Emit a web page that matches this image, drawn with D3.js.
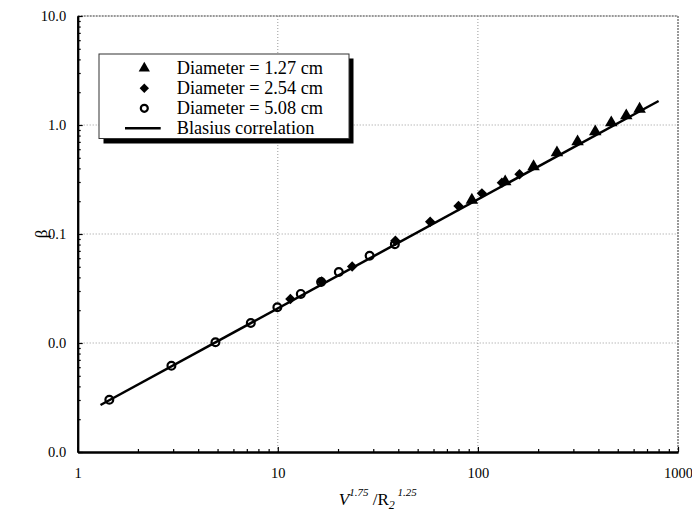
<!DOCTYPE html>
<html>
<head>
<meta charset="utf-8">
<script src="https://cdn.jsdelivr.net/npm/d3@7/dist/d3.min.js"></script>
<style>
  html, body { margin: 0; padding: 0; background: #fff; }
  svg text { font-family: 'Liberation Serif', 'Times New Roman', Times, serif; }
</style>
</head>
<body>
<svg id="chart" width="692" height="514"></svg>
<script>
// ---- Data ----
const d127X = [93.3, 136.9, 189.7, 248.3, 314.8, 385.9, 464.0, 551.4, 642.7];
const d127Y = [0.205, 0.302, 0.416, 0.557, 0.703, 0.869, 1.05, 1.217, 1.40];

const d254X = [11.56, 16.56, 23.53, 38.69, 57.74, 80.0, 104.7, 131.8, 161.4];
const d254Y = [0.0253, 0.0367, 0.0503, 0.0868, 0.1294, 0.1807, 0.236, 0.296, 0.353];

const d508X = [1.439, 2.94, 4.88, 7.33, 9.95, 13.03, 16.46, 20.18, 28.77, 38.46];
const d508Y = [0.00302, 0.00619, 0.01015, 0.01525, 0.0213, 0.0282, 0.0363, 0.0448, 0.0631, 0.0806];

const blasiusX = [1.30, 800];
const blasiusY = [0.0027, 1.66];

const xTicks = [1, 10, 100, 1000];
const yTicks = [0.001, 0.01, 0.1, 1, 10];
const legendLabels = ["Diameter = 1.27 cm", "Diameter = 2.54 cm", "Diameter = 5.08 cm", "Blasius correlation"];

// ---- Layout ----
const FONT = "'Liberation Serif', 'Times New Roman', Times, serif";
const W = 692, H = 514;
const margin = { left: 77.7, top: 16, right: 14, bottom: 62 };
const svg = d3.select("#chart");

const x = d3.scaleLog().domain([1, 1000]).range([margin.left, W - margin.right]);
const y = d3.scaleLog().domain([0.001, 10]).range([H - margin.bottom, margin.top]);

const x0 = x.range()[0], x1 = x.range()[1];
const y0 = y.range()[0], y1 = y.range()[1];

// ---- Grid ----
const grid = svg.append("g");
grid.selectAll(".gx").data(xTicks.slice(1, -1)).enter().append("line")
  .attr("x1", d => x(d)).attr("x2", d => x(d)).attr("y1", y0).attr("y2", y1)
  .attr("stroke", "#999").attr("stroke-width", 1).attr("stroke-dasharray", "1,2");
grid.selectAll(".gy").data(yTicks.slice(1, -1)).enter().append("line")
  .attr("x1", x0).attr("x2", x1).attr("y1", d => y(d)).attr("y2", d => y(d))
  .attr("stroke", "#999").attr("stroke-width", 1).attr("stroke-dasharray", "1,2");
grid.append("line").attr("x1", x0).attr("x2", x1).attr("y1", y1).attr("y2", y1)
  .attr("stroke", "#777").attr("stroke-width", 1.5).attr("stroke-dasharray", "2,1");
grid.append("line").attr("x1", x1).attr("x2", x1).attr("y1", y1).attr("y2", y0)
  .attr("stroke", "#777").attr("stroke-width", 1.5).attr("stroke-dasharray", "2,1");

// ---- Axes ----
const fontTick = "14.5px";
const xMinor = x.ticks().filter(d => !xTicks.includes(d));
const yMinor = y.ticks().filter(d => !yTicks.some(t => Math.abs(t - d) / t < 1e-9));

const gxMinor = svg.append("g").attr("transform", `translate(0,${y0})`)
  .call(d3.axisBottom(x).tickValues(xMinor).tickFormat("").tickSize(-3).tickSizeOuter(0));
const gx = svg.append("g").attr("transform", `translate(0,${y0})`)
  .call(d3.axisBottom(x).tickValues(xTicks).tickFormat(d3.format("d")).tickSize(-5).tickSizeOuter(0).tickPadding(16));
const gyMinor = svg.append("g").attr("transform", `translate(${x0},0)`)
  .call(d3.axisLeft(y).tickValues(yMinor).tickFormat("").tickSize(-3).tickSizeOuter(0));
const gy = svg.append("g").attr("transform", `translate(${x0},0)`)
  .call(d3.axisLeft(y).tickValues(yTicks).tickFormat(d3.format(".1f")).tickSize(-5).tickSizeOuter(0).tickPadding(11.5));

[gxMinor, gx, gyMinor, gy].forEach(g => {
  g.attr("font-family", FONT).attr("font-size", fontTick);
  g.selectAll(".tick line").attr("stroke", "#000").attr("stroke-width", 1.2);
  g.select(".domain").attr("stroke", "#000").attr("stroke-width", 2);
  g.selectAll("text").attr("fill", "#000").attr("font-family", FONT).attr("font-size", fontTick);
});
gx.selectAll("text").attr("dy", "0.71em");

// ---- Blasius line ----
const lineData = blasiusX.map((v, i) => [v, blasiusY[i]]);
svg.append("path").datum(lineData)
  .attr("d", d3.line().x(d => x(d[0])).y(d => y(d[1])))
  .attr("stroke", "#000").attr("stroke-width", 2.5).attr("fill", "none");

// ---- Markers ----
const triSym = d3.symbol().type(d3.symbolTriangle).size(68);
const diaSym = d3.symbol().type(d3.symbolSquare).size(54);

svg.append("g").selectAll("path").data(d127X.map((v, i) => [v, d127Y[i]])).enter().append("path")
  .attr("d", triSym).attr("transform", d => `translate(${x(d[0])},${y(d[1])})`).attr("fill", "#000");
svg.append("g").selectAll("path").data(d254X.map((v, i) => [v, d254Y[i]])).enter().append("path")
  .attr("d", diaSym).attr("transform", d => `translate(${x(d[0])},${y(d[1])}) rotate(45)`).attr("fill", "#000");
svg.append("g").selectAll("circle").data(d508X.map((v, i) => [v, d508Y[i]])).enter().append("circle")
  .attr("cx", d => x(d[0])).attr("cy", d => y(d[1])).attr("r", 3.9)
  .attr("fill", "none").attr("stroke", "#000").attr("stroke-width", 2.2);

// ---- Legend ----
const lg = svg.append("g");
lg.append("rect").attr("x", 103.5).attr("y", 58.5).attr("width", 250).attr("height", 85).attr("fill", "#000");
lg.append("rect").attr("x", 99).attr("y", 54).attr("width", 250).attr("height", 84.5)
  .attr("fill", "#fff").attr("stroke", "#333").attr("stroke-width", 1);
const rowY = i => 68.3 + i * 20;
const mx = 144.3;
lg.append("path").attr("d", d3.symbol().type(d3.symbolTriangle).size(55)).attr("transform", `translate(${mx},${rowY(0)})`).attr("fill", "#000");
lg.append("path").attr("d", d3.symbol().type(d3.symbolSquare).size(44)).attr("transform", `translate(${mx},${rowY(1)}) rotate(45)`).attr("fill", "#000");
lg.append("circle").attr("cx", mx).attr("cy", rowY(2)).attr("r", 3.5).attr("fill", "none")
  .attr("stroke", "#000").attr("stroke-width", 2.2);
lg.append("line").attr("x1", 125).attr("x2", 160.7).attr("y1", rowY(3)).attr("y2", rowY(3))
  .attr("stroke", "#000").attr("stroke-width", 2.5);
lg.selectAll("text").data(legendLabels).enter().append("text")
  .attr("x", 176.7).attr("y", (d, i) => rowY(i) + 5.8)
  .attr("font-family", FONT).attr("font-size", "18.3px").attr("fill", "#000").text(d => d);

// ---- Axis titles ----
const xt = svg.append("text").attr("x", (x0 + x1) / 2).attr("y", 505)
  .attr("text-anchor", "middle").attr("fill", "#000").attr("font-family", FONT).attr("font-size", "17px");
xt.append("tspan").attr("font-style", "italic").text("V");
xt.append("tspan").attr("font-style", "italic").attr("font-size", "11px").attr("dy", -9).text("1.75");
xt.append("tspan").attr("dy", 9).text(" /");
xt.append("tspan").text("R");
xt.append("tspan").attr("font-style", "italic").attr("font-size", "12px").attr("dy", 4).text("2");
xt.append("tspan").attr("font-style", "italic").attr("font-size", "11px").attr("dy", -13).text(" 1.25");

svg.append("text").attr("transform", `translate(47,${(y0 + y1) / 2}) rotate(-90)`)
  .attr("text-anchor", "middle").attr("fill", "#000").attr("font-family", FONT).attr("font-size", "17px").text("β");
</script>
</body>
</html>
